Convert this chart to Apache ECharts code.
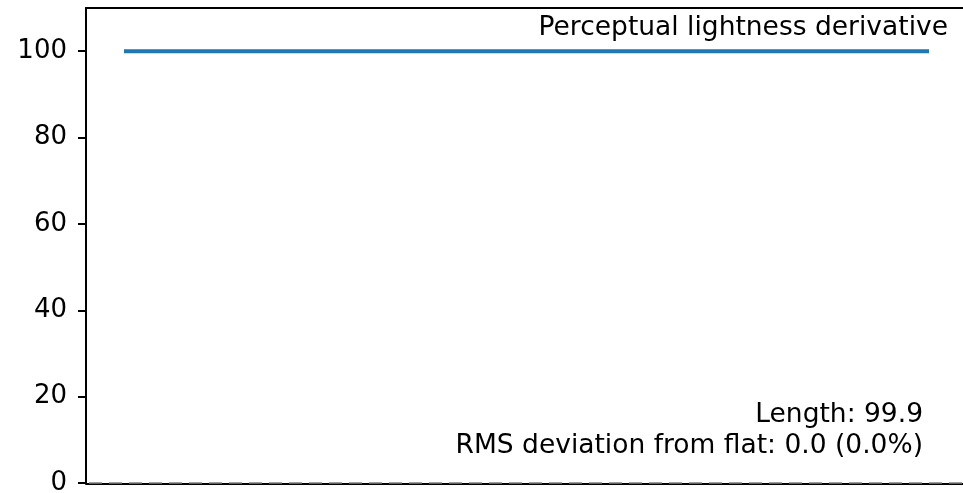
<!DOCTYPE html>
<html>
<head>
<meta charset="utf-8">
<script src="https://cdn.jsdelivr.net/npm/echarts@6/dist/echarts.min.js"></script>
<style>
html,body{margin:0;padding:0;background:#fff;}
#chart{width:963px;height:493px;}
</style>
</head>
<body>
<div id="chart"></div>
<script>
// Data
var xValues = [0, 0.25, 0.5, 0.75, 1.0];
var lightnessDerivative = [100, 100, 100, 100, 100];
var yTicks = [0, 20, 40, 60, 80, 100];
var titleText = 'Perceptual lightness derivative';
var statsLines = ['Length: 99.9', 'RMS deviation from flat: 0.0 (0.0%)'];

var FONT = 'DejaVu Sans';
var chart = echarts.init(document.getElementById('chart'), null, {renderer: 'canvas'});
var seriesData = xValues.map(function (x, i) { return [x, lightnessDerivative[i]]; });

var spine = {color: '#000', width: 2};

chart.setOption({
  animation: false,
  backgroundColor: '#fff',
  grid: {
    left: 86, top: 8, width: 1004, height: 475,
    outerBoundsMode: 'none', containLabel: false, show: false
  },
  xAxis: [{
    type: 'value', min: -0.0472, max: 1.2, position: 'bottom', offset: 1.2,
    axisLine: {show: true, onZero: false, lineStyle: spine},
    axisTick: {show: false}, axisLabel: {show: false}, splitLine: {show: false}
  }, {
    type: 'value', min: -0.0472, max: 1.2, position: 'top',
    axisLine: {show: true, onZero: false, lineStyle: spine},
    axisTick: {show: false}, axisLabel: {show: false}, splitLine: {show: false}
  }],
  yAxis: {
    type: 'value', min: 0, max: 110,
    axisLine: {show: true, onZero: false, lineStyle: spine},
    axisTick: {show: true, length: 8, lineStyle: {color: '#000', width: 2}, customValues: yTicks},
    axisLabel: {color: '#000', fontSize: 26, fontFamily: FONT, margin: 19, customValues: yTicks},
    splitLine: {show: false}
  },
  series: [{
    type: 'line',
    xAxisIndex: 0,
    data: seriesData,
    showSymbol: false,
    lineStyle: {color: '#1f77b4', width: 4},
    z: 3,
    markLine: {
      silent: true,
      symbol: ['none', 'none'],
      label: {show: false},
      lineStyle: {color: '#808080', type: [13, 7], dashOffset: -3, width: 1.6},
      data: [{yAxis: 0}]
    }
  }],
  graphic: [
    {type: 'text', z: 10, style: {x: 948, y: 28, text: titleText, align: 'right', verticalAlign: 'middle', font: '26.5px "DejaVu Sans"', fill: '#000'}},
    {type: 'text', z: 10, style: {x: 923, y: 415, text: statsLines[0], align: 'right', verticalAlign: 'middle', font: '26.5px "DejaVu Sans"', fill: '#000'}},
    {type: 'text', z: 10, style: {x: 923, y: 446, text: statsLines[1], align: 'right', verticalAlign: 'middle', font: '26.5px "DejaVu Sans"', fill: '#000'}}
  ]
});
</script>
</body>
</html>
